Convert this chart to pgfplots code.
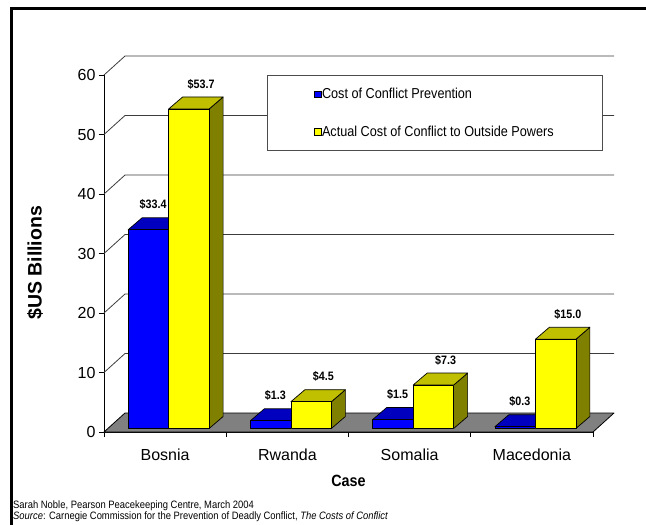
\documentclass[border=0pt]{standalone}
\usepackage{pgfplots}
\pgfplotsset{compat=1.18}
\usepackage{pgfplotstable}
\usepackage{fontspec}
\setmainfont{Liberation Sans}
\newfontfamily\narrowsans{Liberation Sans}[FakeStretch=0.88]

\definecolor{prevFront}{RGB}{0,0,255}
\definecolor{prevTop}{RGB}{0,0,190}
\definecolor{prevSide}{RGB}{0,0,128}
\definecolor{costFront}{RGB}{255,255,0}
\definecolor{costTop}{RGB}{192,192,0}
\definecolor{costSide}{RGB}{128,128,0}
\definecolor{floorGray}{RGB}{128,128,128}
\definecolor{wallLine}{RGB}{60,60,60}

% Costs in billions of US dollars
\pgfplotstableread{
idx prevention actual
0   33.4       53.7
1   1.3        4.5
2   1.5        7.3
3   0.3        15.0
}\costdata

% Oblique bar drawn at the data point (category centre, value):
% front face, top and right side, in pt.
% #1 left edge of the front face relative to the category centre,
% #2/#3/#4 front/top/side colours; \barval holds the bar's value.
\newcommand\obliquebar[4]{%
  \pgfmathsetmacro\barhgt{\barval*5.95}%
  \begin{scope}[x=1pt,y=1pt,line width=0.7pt,line join=round]
    \filldraw[fill=#4,draw=black] (#1+40.5,3.5-\barhgt) -- ++(14,12) -- ++(0,\barhgt) -- ++(-14,-12) -- cycle;
    \filldraw[fill=#3,draw=black] (#1,3.5) -- ++(40.5,0) -- ++(14,12) -- ++(-40.5,0) -- cycle;
    \filldraw[fill=#2,draw=black] (#1,3.5-\barhgt) rectangle ++(40.5,\barhgt);
  \end{scope}}
\pgfdeclareplotmark{preventionbar}{\obliquebar{-37}{prevFront}{prevTop}{prevSide}}
\pgfdeclareplotmark{actualbar}{\obliquebar{3.5}{costFront}{costTop}{costSide}}

\begin{document}
\begin{tikzpicture}
\useasboundingbox (0pt,0pt) rectangle (646pt,-525pt);
\draw[line width=3pt] (11pt,-540pt) -- (11pt,-8.5pt) -- (660pt,-8.5pt);
\begin{axis}[
  at={(104pt,-432pt)}, anchor=south west,
  scale only axis, width=489pt, height=357pt,
  xmin=-0.5, xmax=3.5, ymin=0, ymax=60,
  clip=false,
  axis x line*=bottom, axis y line*=left,
  axis line style={black,line width=0.9pt},
  xtick={0,1,2,3},
  xticklabels={Bosnia,Rwanda,Somalia,Macedonia},
  xticklabel style={yshift=-8pt},
  minor xtick={-0.5,0.5,1.5,2.5,3.5},
  major x tick style={draw=none},
  minor x tick style={black,line width=0.9pt},
  ytick={0,10,...,60},
  y tick style={black,line width=0.9pt},
  tick align=outside,
  major tick length=5pt, minor tick length=5pt,
  tick label style={font=\fontsize{16}{16}\selectfont},
  /pgf/number format/assume math mode=true,
  xlabel={Case},
  xlabel style={at={(axis description cs:0.5,-0.1373)}, anchor=center,
    font=\narrowsans\bfseries\fontsize{16.3}{16}\selectfont},
  ylabel={\$US Billions},
  ylabel style={at={(axis description cs:-0.1411,0.474)}, anchor=center,
    font=\bfseries\fontsize{19.5}{19.5}\selectfont},
  legend style={draw=none, fill=none, at={(axis description cs:0.4294,0.8938)},
    anchor=west, inner sep=0pt, row sep=24pt,
    font=\narrowsans\fontsize{14.4}{14}\selectfont, nodes={inner sep=0.75pt}},
  legend cell align=left,
  nodes near coords={\$\pgfmathprintnumber[fixed,fixed zerofill,precision=1]{\pgfplotspointmeta}},
  every node near coord/.append style={anchor=center, black,
    font=\narrowsans\bfseries\fontsize{12.2}{12}\selectfont},
]
% left side wall and back wall rules
\pgfplotsinvokeforeach{10,20,...,60}{
  \draw[wallLine,line width=0.8pt] (axis cs:-0.5,#1) -- ++(21pt,19pt) -- ++(489pt,0pt);
}
% floor
\filldraw[fill=floorGray,draw=black,line width=0.8pt,line join=round]
  (axis cs:-0.5,0) -- (axis cs:3.5,0) -- ++(21pt,19pt) -- ++(-489pt,0pt) -- cycle;
% legend frame
\draw[fill=white,draw=black!70,line width=0.8pt]
  (rel axis cs:0.3333,0.7899) rectangle (rel axis cs:1.0184,1);

\addplot[scatter, only marks, mark=preventionbar,
  visualization depends on={\thisrow{prevention} \as \barval},
  every node near coord/.append style={xshift=-12pt, yshift=28.5pt},
  legend image code/.code={\filldraw[fill=prevFront,draw=black,line width=0.6pt]
    (0pt,-3.2pt) rectangle (6.5pt,3.2pt);}]
  table[x=idx,y=prevention] {\costdata};
\addlegendentry{Cost of Conflict Prevention}

\addplot[scatter, only marks, mark=actualbar,
  visualization depends on={\thisrow{actual} \as \barval},
  every node near coord/.append style={xshift=36pt, yshift=28.5pt},
  legend image code/.code={\filldraw[fill=costFront,draw=black,line width=0.6pt]
    (0pt,-3.2pt) rectangle (6.5pt,3.2pt);}]
  table[x=idx,y=actual] {\costdata};
\addlegendentry{Actual Cost of Conflict to Outside Powers}
\end{axis}
\node[anchor=west,inner sep=0pt,font=\narrowsans\fontsize{10.7}{12}\selectfont]
  at (13pt,-505.5pt) {Sarah Noble, Pearson Peacekeeping Centre, March 2004};
\node[anchor=west,inner sep=0pt,font=\narrowsans\fontsize{10.7}{12}\selectfont]
  at (13pt,-517pt) {\textit{Source}: Carnegie Commission for the Prevention of Deadly Conflict, \textit{The Costs of Conflict}};
\end{tikzpicture}
\end{document}
